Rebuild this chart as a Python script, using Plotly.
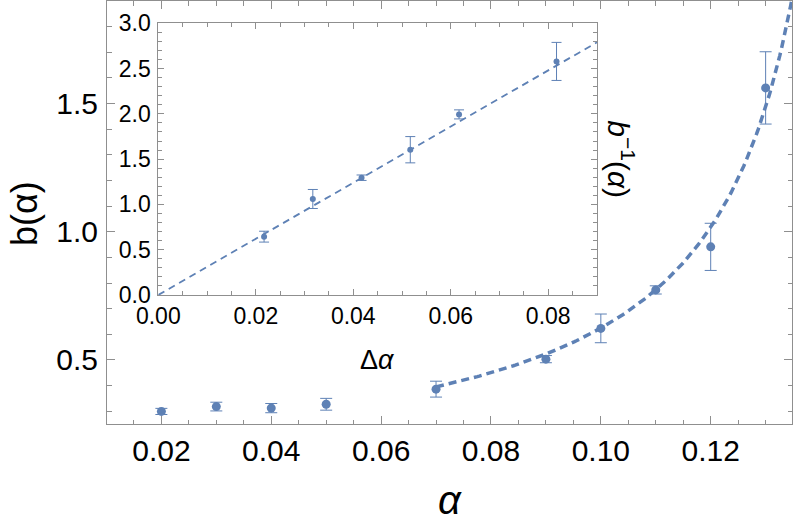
import numpy as np
import plotly.graph_objects as go

# main panel data
alpha = [0.02, 0.03, 0.04, 0.05, 0.07, 0.09, 0.10, 0.11, 0.12, 0.13]
b_alpha = [0.299, 0.318, 0.312, 0.327, 0.386, 0.503, 0.623, 0.773, 0.941, 1.561]
b_err = [0.012, 0.017, 0.018, 0.023, 0.031, 0.014, 0.056, 0.016, 0.092, 0.141]

# inset data
d_alpha = [0.0217, 0.0317, 0.0417, 0.0517, 0.0617, 0.0817]
b_inv = [0.644, 1.06, 1.295, 1.604, 1.994, 2.579]
b_inv_err = [0.06, 0.105, 0.03, 0.145, 0.05, 0.21]

# linear fit of b^-1 vs delta alpha
slope = 31.0
alpha_c = 0.1517

blue = "#5E81B5"
frame = "#8f8f8f"
font = "Liberation Sans, Arial, sans-serif"

fit_a = np.linspace(0.07, 0.1352, 200)
fit_b = 1.0 / (slope * (alpha_c - fit_a))
fit_d = np.array([0.0, 0.09])

fig = go.Figure()

fig.add_trace(go.Scatter(
    x=fit_a, y=fit_b, mode="lines",
    line=dict(color=blue, width=3.5, dash="8px,5px"),
    xaxis="x", yaxis="y", showlegend=False))
fig.add_trace(go.Scatter(
    x=alpha, y=b_alpha, mode="markers",
    marker=dict(color=blue, size=9),
    error_y=dict(type="data", array=b_err, color=blue, thickness=1, width=6),
    xaxis="x", yaxis="y", showlegend=False))

fig.add_trace(go.Scatter(
    x=fit_d, y=slope * fit_d, mode="lines",
    line=dict(color=blue, width=1.8, dash="7px,5px"),
    xaxis="x2", yaxis="y2", showlegend=False))
fig.add_trace(go.Scatter(
    x=d_alpha, y=b_inv, mode="markers",
    marker=dict(color=blue, size=6),
    error_y=dict(type="data", array=b_inv_err, color=blue, thickness=1, width=5),
    xaxis="x2", yaxis="y2", showlegend=False))

ax = dict(showline=True, linecolor=frame, linewidth=1, mirror="allticks",
          ticks="inside", tickcolor=frame, showgrid=False, zeroline=False,
          automargin=False, tickfont=dict(family=font, color="black"))

lbl = dict(xref="paper", yref="paper", showarrow=False,
           xanchor="center", yanchor="middle")

fig.update_layout(
    width=793, height=526,
    margin=dict(l=107, r=1, t=1, b=102, autoexpand=False),
    plot_bgcolor="white", paper_bgcolor="white",
    xaxis=dict(ax, range=[0.0101, 0.1348], dtick=0.02, tick0=0, tickformat=".2f",
               ticklen=8, tickfont=dict(family=font, size=30, color="black"),
               ticklabelstandoff=0,
               minor=dict(dtick=0.005, tick0=0, ticklen=4.5, ticks="inside", tickcolor=frame)),
    yaxis=dict(ax, range=[0.25, 1.9], dtick=0.5, tick0=0, tickformat=".1f",
               ticklen=8, tickfont=dict(family=font, size=30, color="black"),
               ticklabelstandoff=2,
               minor=dict(dtick=0.1, tick0=0, ticklen=4.5, ticks="inside", tickcolor=frame)),
    xaxis2=dict(ax, domain=[0.0749, 0.7153], anchor="y2", range=[0, 0.09],
                dtick=0.02, tick0=0, tickformat=".2f", ticklen=6,
                tickfont=dict(family=font, size=23, color="black"),
                ticklabelstandoff=0,
                minor=dict(dtick=0.005, tick0=0, ticklen=3.5, ticks="inside", tickcolor=frame)),
    yaxis2=dict(ax, domain=[0.305, 0.9473], anchor="x2", range=[0, 3],
                dtick=0.5, tick0=0, tickformat=".1f", ticklen=6,
                tickfont=dict(family=font, size=23, color="black"),
                ticklabelstandoff=2,
                minor=dict(dtick=0.1, tick0=0, ticklen=3.5, ticks="inside", tickcolor=frame)),
    annotations=[
        dict(lbl, text="<i>α</i>", x=0.5, y=-0.2364, yanchor="bottom",
             font=dict(family=font, size=40, color="black")),
        dict(lbl, text="b(α)", x=-0.1197, y=0.4965, textangle=-90,
             font=dict(family=font, size=36, color="black")),
        dict(lbl, text="<i>b</i><sup>−1</sup>(<i>α</i>)", x=0.750, y=0.6265, textangle=90,
             font=dict(family=font, size=30, color="black")),
        dict(lbl, text="Δ<i>α</i>", x=0.3956, y=0.1513,
             font=dict(family=font, size=27, color="black")),
    ],
)

# the page body has a default 8px margin; drop it so the figure sits at the corner
fig.write_html("out.html", config={"displayModeBar": False},
               post_script="document.body.style.margin='0';")
